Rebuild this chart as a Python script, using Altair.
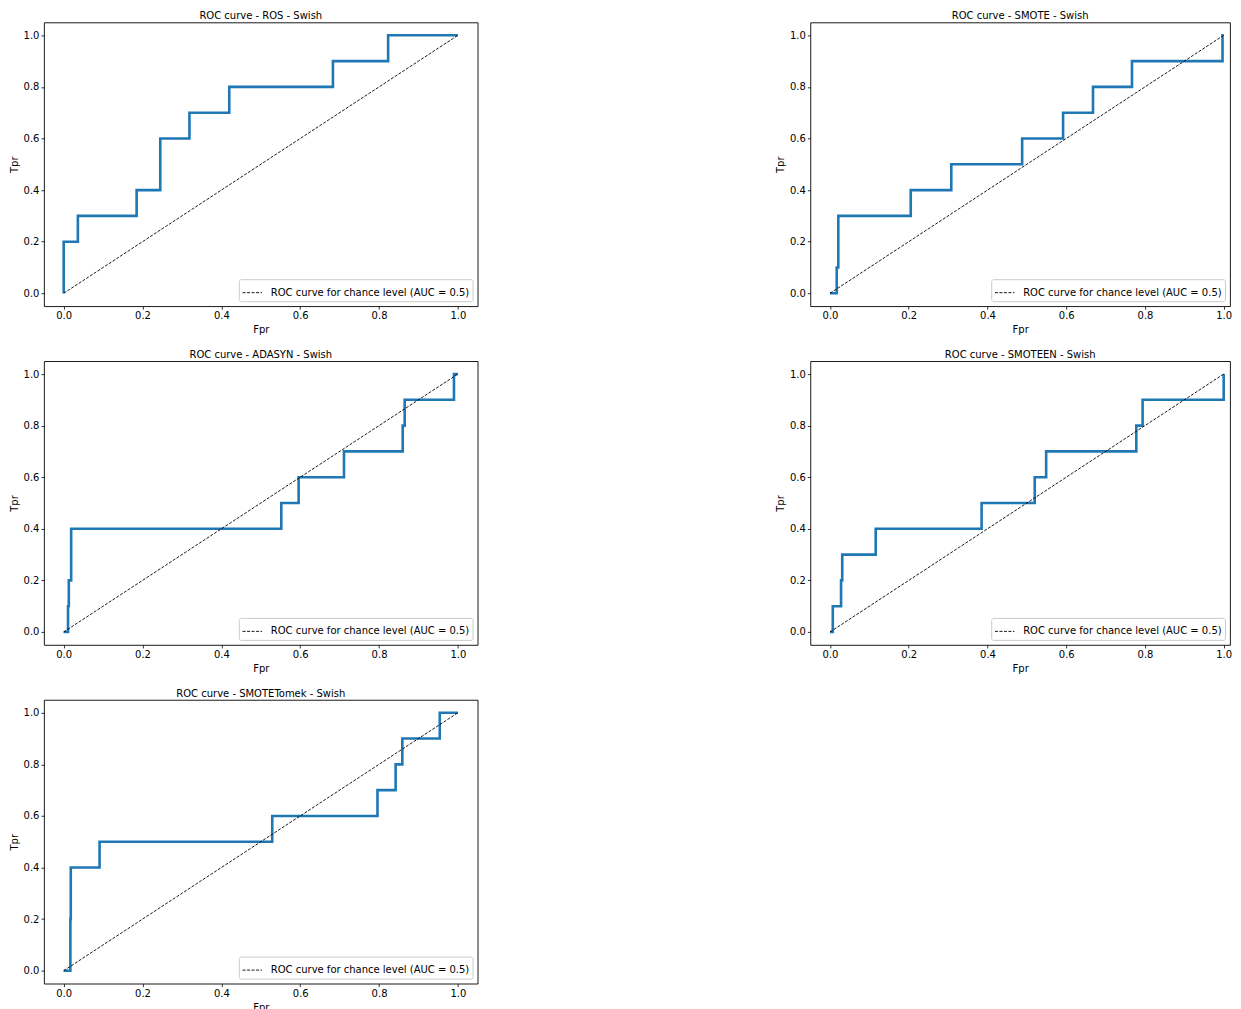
import altair as alt
import pandas as pd

TICKS = [0.0, 0.2, 0.4, 0.6, 0.8, 1.0]
LEG = "ROC curve for chance level (AUC = 0.5)"

names = ["ROS", "SMOTE", "ADASYN", "SMOTEEN", "SMOTETomek"]

ros_fpr = [0.0, 0.0, 0.036, 0.036, 0.185, 0.185, 0.245, 0.245, 0.319, 0.319, 0.42, 0.42, 0.683, 0.683, 0.823, 0.823, 1.0]
ros_tpr = [0.0, 0.2, 0.2, 0.3, 0.3, 0.4, 0.4, 0.6, 0.6, 0.7, 0.7, 0.8, 0.8, 0.9, 0.9, 1.0, 1.0]

smote_fpr = [0.0, 0.017, 0.017, 0.021, 0.021, 0.205, 0.205, 0.308, 0.308, 0.488, 0.488, 0.592, 0.592, 0.668, 0.668, 0.767, 0.767, 0.997, 0.997, 1.0]
smote_tpr = [0.0, 0.0, 0.1, 0.1, 0.3, 0.3, 0.4, 0.4, 0.5, 0.5, 0.6, 0.6, 0.7, 0.7, 0.8, 0.8, 0.9, 0.9, 1.0, 1.0]

adasyn_fpr = [0.0, 0.011, 0.011, 0.013, 0.013, 0.019, 0.019, 0.552, 0.552, 0.596, 0.596, 0.711, 0.711, 0.860, 0.860, 0.865, 0.865, 0.99, 0.99, 1.0]
adasyn_tpr = [0.0, 0.0, 0.1, 0.1, 0.2, 0.2, 0.4, 0.4, 0.5, 0.5, 0.6, 0.6, 0.7, 0.7, 0.8, 0.8, 0.9, 0.9, 1.0, 1.0]

smoteen_fpr = [0.0, 0.007, 0.007, 0.028, 0.028, 0.031, 0.031, 0.116, 0.116, 0.385, 0.385, 0.52, 0.52, 0.549, 0.549, 0.778, 0.778, 0.794, 0.794, 1.0, 1.0]
smoteen_tpr = [0.0, 0.0, 0.1, 0.1, 0.2, 0.2, 0.3, 0.3, 0.4, 0.4, 0.5, 0.5, 0.6, 0.6, 0.7, 0.7, 0.8, 0.8, 0.9, 0.9, 1.0]

tomek_fpr = [0.0, 0.017, 0.017, 0.018, 0.018, 0.091, 0.091, 0.529, 0.529, 0.796, 0.796, 0.842, 0.842, 0.859, 0.859, 0.954, 0.954, 1.0]
tomek_tpr = [0.0, 0.0, 0.2, 0.2, 0.4, 0.4, 0.5, 0.5, 0.6, 0.6, 0.7, 0.7, 0.8, 0.8, 0.9, 0.9, 1.0, 1.0]

curves = [
    (ros_fpr, ros_tpr),
    (smote_fpr, smote_tpr),
    (adasyn_fpr, adasyn_tpr),
    (smoteen_fpr, smoteen_tpr),
    (tomek_fpr, tomek_tpr),
]

chance_fpr = [0.0, 1.0]
chance_tpr = [0.0, 1.0]

FONT = "DejaVu Sans"


def axis(title, label_pad):
    return alt.Axis(
        values=TICKS, format=".1f", title=title, grid=False, domain=False,
        ticks=True, tickSize=3, tickColor="black", tickWidth=0.8,
        labelFontSize=10, labelFont=FONT, labelColor="black", labelPadding=label_pad,
        titleFontSize=10, titleFont=FONT, titleColor="black",
        titleFontWeight="normal", titlePadding=4,
    )


def panel(name, fpr, tpr, right_col):
    df = pd.DataFrame({"fpr": fpr, "tpr": tpr, "order": list(range(len(fpr)))})
    ch = pd.DataFrame({"fpr": chance_fpr, "tpr": chance_tpr, "label": [LEG, LEG]})
    xmax = 1.016 if right_col else 1.05
    w = 420 if right_col else 434
    xs = alt.Scale(domain=[-0.05, xmax], nice=False, zero=False)
    ys = alt.Scale(domain=[-0.05, 1.05], nice=False, zero=False)
    line = alt.Chart(df).mark_line(color="#1f77b4", strokeWidth=2.6).encode(
        x=alt.X("fpr:Q", scale=xs, axis=axis("Fpr", 1.5)),
        y=alt.Y("tpr:Q", scale=ys, axis=axis("Tpr", 2)),
        order="order:Q",
    )
    diag = alt.Chart(ch).mark_line(color="black", strokeWidth=0.9).encode(
        x=alt.X("fpr:Q", scale=xs),
        y=alt.Y("tpr:Q", scale=ys),
        strokeDash=alt.StrokeDash(
            "label:N",
            scale=alt.Scale(domain=[LEG], range=[[3, 1.5]]),
            legend=alt.Legend(
                title=None, orient="bottom-right", offset=5, padding=3,
                symbolType="stroke", symbolStrokeColor="black",
                symbolStrokeWidth=0.9, symbolSize=380, labelOffset=8,
                labelFontSize=10, labelFont=FONT, labelColor="black",
                labelLimit=500,
                fillColor="white", strokeColor="#cccccc", cornerRadius=2,
            ),
        ),
    )
    return alt.layer(line, diag).properties(
        width=w, height=284,
        title=alt.Title(
            f"ROC curve - {name} - Swish", fontSize=10, font=FONT,
            fontWeight="normal", color="black", offset=1,
        ),
    )


panels = [panel(n, f, t, i % 2 == 1) for i, (n, (f, t)) in enumerate(zip(names, curves))]

chart = alt.concat(
    *panels, columns=2, spacing={"row": 55, "column": 333}, bounds="flush"
).resolve_scale(strokeDash="independent").configure_view(
    stroke="black", strokeWidth=0.9
).properties(padding={"left": 0, "top": 2, "right": 0, "bottom": 0})

chart.save("out.html", embed_options={"renderer": "svg", "actions": False})
